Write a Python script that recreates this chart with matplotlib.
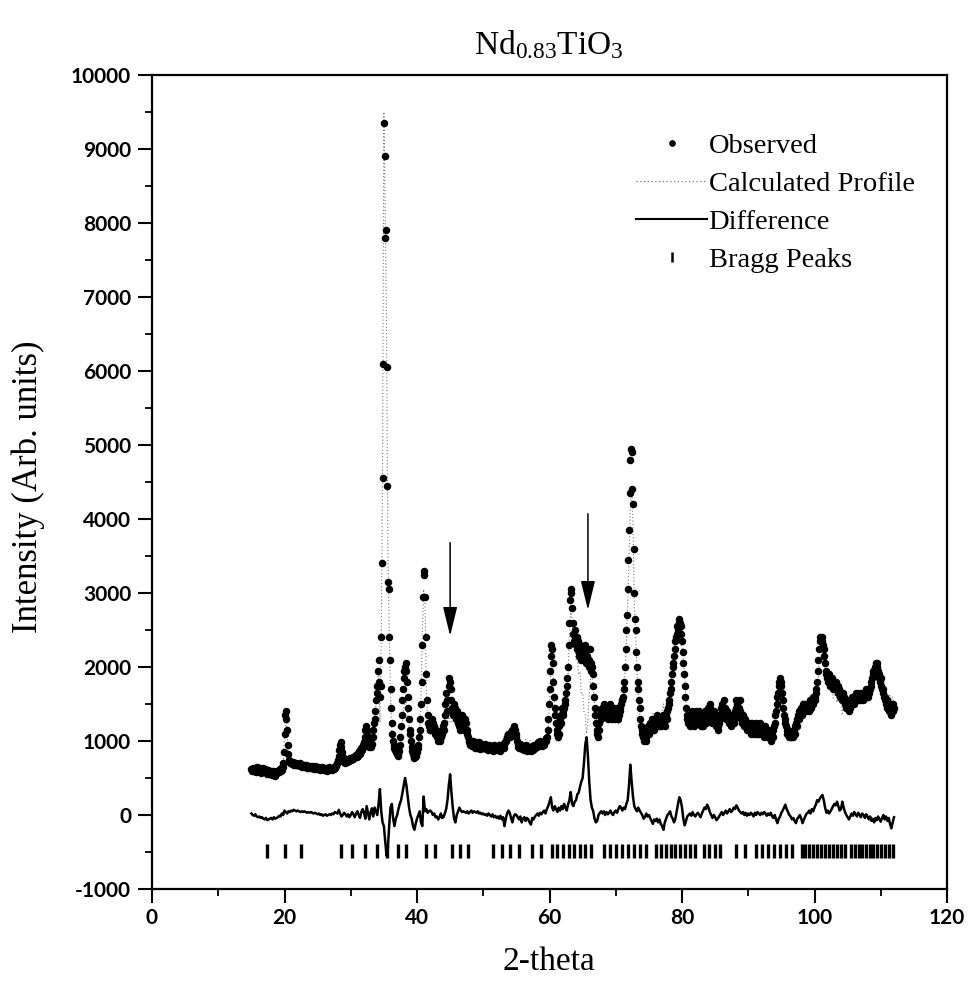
import numpy as np
import matplotlib
matplotlib.use("Agg")
import matplotlib.pyplot as plt
from matplotlib.ticker import MultipleLocator
from matplotlib.lines import Line2D

# ---------------- data ----------------
x_start = 15.0
obs_step = 0.1
observed = [
    620, 600, 640, 610, 590, 630, 600, 580, 620, 650,      # 15
    610, 590, 620, 640, 600, 570, 610, 630, 590, 600,      # 16
    580, 620, 600, 560, 590, 610, 570, 550, 580, 600,      # 17
    560, 540, 570, 590, 550, 530, 560, 580, 600, 570,      # 18
    590, 610, 580, 620, 600, 640, 610, 650, 700, 850,      # 19
    1100, 1350, 1400, 1300, 1150, 950, 820, 740, 720, 700, # 20
    720, 700, 690, 710, 680, 700, 690, 670, 700, 680,      # 21
    690, 670, 680, 700, 660, 680, 670, 650, 680, 660,      # 22
    670, 650, 660, 680, 640, 660, 650, 630, 660, 650,      # 23
    640, 660, 630, 650, 620, 640, 660, 630, 620, 650,      # 24
    630, 650, 620, 640, 610, 630, 650, 620, 640, 610,      # 25
    630, 610, 640, 620, 600, 630, 610, 650, 620, 640,      # 26
    620, 640, 610, 630, 650, 620, 640, 660, 680, 700,      # 27
    720, 750, 800, 880, 950, 980, 920, 850, 780, 740,      # 28
    720, 700, 730, 750, 720, 740, 760, 730, 750, 770,      # 29
    760, 740, 770, 790, 760, 780, 800, 780, 810, 790,      # 30
    820, 800, 840, 860, 830, 870, 900, 880, 920, 950,      # 31
    980, 1050, 1150, 1200, 1150, 1080, 1000, 950, 920, 980,  # 32
    950, 920, 960, 1050, 1150, 1250, 1300, 1400, 1550, 1650, # 33
    1750, 1950, 2100, 1800, 1600, 1750, 2400, 3400, 4550, 6100,  # 34
    9350, 8900, 7800, 7900, 6050, 4450, 3150, 3050, 2400, 2100,  # 35
    1700, 1450, 1250, 1100, 1000, 950, 900, 880, 850, 900,   # 36
    820, 800, 830, 870, 950, 1050, 1200, 1350, 1550, 1700,   # 37
    1850, 1950, 2000, 2050, 1950, 1800, 1600, 1450, 1300, 1150,  # 38
    1100, 1000, 920, 860, 820, 790, 770, 780, 800, 850,      # 39
    850, 900, 950, 1050, 1150, 1300, 1500, 1800, 2300, 2950,  # 40
    3300, 3250, 2950, 2400, 1900, 1550, 1350, 1250, 1200, 1150,  # 41
    1150, 1200, 1250, 1300, 1250, 1200, 1150, 1100, 1150, 1100,  # 42
    1050, 1100, 1000, 1050, 1100, 1000, 1050, 1100, 1150, 1200,  # 43
    1150, 1250, 1350, 1500, 1650, 1550, 1400, 1550, 1750, 1850,  # 44
    1800, 1700, 1550, 1450, 1400, 1350, 1500, 1450, 1350, 1300,  # 45
    1400, 1350, 1250, 1300, 1200, 1150, 1250, 1300, 1350, 1250,  # 46
    1200, 1150, 1250, 1300, 1250, 1150, 1100, 1050, 1000, 980,   # 47
    950, 980, 960, 930, 1000, 970, 940, 900, 960, 990,       # 48
    940, 910, 950, 980, 920, 890, 930, 960, 910, 940,        # 49
    900, 930, 960, 920, 890, 940, 910, 880, 920, 950,        # 50
    920, 890, 930, 900, 870, 910, 940, 900, 880, 920,        # 51
    900, 930, 880, 910, 940, 900, 870, 920, 950, 910,        # 52
    930, 900, 950, 980, 1020, 1000, 1060, 1100, 1050, 1080,  # 53
    1100, 1060, 1120, 1150, 1100, 1130, 1180, 1200, 1150, 1100,  # 54
    1050, 1000, 960, 920, 900, 930, 960, 920, 890, 910,      # 55
    930, 900, 880, 910, 940, 900, 870, 920, 900, 880,        # 56
    910, 890, 860, 900, 930, 880, 910, 940, 900, 920,        # 57
    950, 920, 960, 990, 940, 970, 1000, 960, 930, 970,       # 58
    990, 950, 980, 1000, 1040, 1000, 1050, 1150, 1300, 1500,  # 59
    1700, 1950, 2150, 2300, 2250, 2050, 1800, 1600, 1450, 1350,  # 60
    1250, 1150, 1100, 1050, 1100, 1200, 1300, 1250, 1350, 1450,  # 61
    1400, 1350, 1450, 1550, 1500, 1650, 1750, 1850, 2000, 2300,  # 62
    2600, 2900, 3050, 3000, 2800, 2600, 2450, 2350, 2500, 2400,  # 63
    2300, 2250, 2400, 2350, 2200, 2150, 2300, 2250, 2100, 2200,  # 64
    2150, 2250, 2100, 2200, 2300, 2050, 2150, 2250, 2100, 2000,  # 65
    2100, 2250, 2050, 1950, 2000, 1900, 1750, 1600, 1450, 1350,  # 66
    1250, 1150, 1100, 1050, 1150, 1250, 1350, 1400, 1300, 1450,  # 67
    1400, 1350, 1450, 1500, 1400, 1350, 1450, 1400, 1300, 1350,  # 68
    1450, 1400, 1500, 1450, 1350, 1300, 1400, 1450, 1350, 1300,  # 69
    1350, 1400, 1450, 1350, 1300, 1350, 1450, 1400, 1500, 1550,  # 70
    1550, 1600, 1700, 1800, 2000, 2250, 2500, 2700, 3050, 3450,  # 71
    3850, 4350, 4800, 4950, 4900, 4400, 4200, 3600, 3000, 2650,  # 72
    2500, 2200, 2000, 1800, 1700, 1550, 1450, 1300, 1200, 1150,  # 73
    1100, 1050, 1000, 1080, 1150, 1050, 1000, 1100, 1150, 1200,  # 74
    1100, 1150, 1250, 1200, 1150, 1300, 1250, 1200, 1150, 1250,  # 75
    1300, 1200, 1250, 1350, 1250, 1200, 1300, 1250, 1200, 1300,  # 76
    1250, 1350, 1300, 1250, 1200, 1300, 1350, 1300, 1400, 1450,  # 77
    1500, 1550, 1650, 1700, 1800, 1900, 2000, 2050, 2150, 2250,  # 78
    2350, 2400, 2450, 2550, 2500, 2600, 2650, 2600, 2550, 2450,  # 79
    2350, 2200, 2050, 1900, 1750, 1600, 1450, 1350, 1300, 1250,  # 80
    1250, 1300, 1200, 1250, 1300, 1400, 1350, 1250, 1200, 1300,  # 81
    1350, 1400, 1300, 1250, 1350, 1400, 1300, 1250, 1200, 1300,  # 82
    1350, 1250, 1200, 1300, 1400, 1350, 1250, 1300, 1400, 1450,  # 83
    1400, 1350, 1450, 1500, 1400, 1300, 1250, 1350, 1400, 1300,  # 84
    1250, 1200, 1300, 1350, 1200, 1150, 1250, 1300, 1350, 1450,  # 85
    1500, 1400, 1350, 1450, 1550, 1450, 1350, 1300, 1400, 1350,  # 86
    1300, 1250, 1350, 1300, 1200, 1250, 1300, 1350, 1250, 1300,  # 87
    1400, 1450, 1550, 1500, 1400, 1350, 1450, 1550, 1400, 1300,  # 88
    1250, 1300, 1350, 1250, 1200, 1300, 1250, 1200, 1150, 1250,  # 89
    1200, 1150, 1250, 1200, 1100, 1150, 1250, 1200, 1100, 1150,  # 90
    1200, 1250, 1150, 1100, 1200, 1150, 1100, 1200, 1250, 1150,  # 91
    1100, 1150, 1200, 1100, 1050, 1150, 1200, 1100, 1150, 1050,  # 92
    1100, 1050, 1150, 1100, 1050, 1000, 1100, 1050, 1150, 1200,  # 93
    1250, 1350, 1400, 1500, 1600, 1650, 1750, 1800, 1850, 1800,  # 94
    1750, 1650, 1550, 1450, 1350, 1300, 1250, 1200, 1150, 1100,  # 95
    1150, 1100, 1050, 1100, 1050, 1050, 1100, 1050, 1100, 1150,  # 96
    1100, 1200, 1250, 1200, 1300, 1350, 1300, 1400, 1350, 1450,  # 97
    1400, 1350, 1450, 1500, 1400, 1450, 1500, 1400, 1450, 1500,  # 98
    1450, 1400, 1500, 1550, 1500, 1450, 1550, 1600, 1500, 1550,  # 99
    1550, 1600, 1650, 1700, 1800, 1950, 2100, 2250, 2350, 2400,  # 100
    2350, 2400, 2350, 2300, 2250, 2150, 2050, 1950, 1900, 1850,  # 101
    1800, 1850, 1900, 1800, 1750, 1800, 1850, 1750, 1700, 1800,  # 102
    1750, 1700, 1800, 1750, 1700, 1650, 1750, 1700, 1650, 1600,  # 103
    1650, 1600, 1550, 1650, 1600, 1550, 1500, 1450, 1500, 1550,  # 104
    1450, 1500, 1400, 1450, 1500, 1550, 1500, 1600, 1550, 1500,  # 105
    1600, 1550, 1600, 1650, 1600, 1550, 1600, 1650, 1600, 1550,  # 106
    1600, 1650, 1600, 1550, 1650, 1600, 1650, 1700, 1650, 1600,  # 107
    1650, 1600, 1700, 1650, 1700, 1750, 1800, 1850, 1900, 1950,  # 108
    1900, 1950, 2000, 2050, 2000, 2050, 1950, 1900, 1850, 1800,  # 109
    1850, 1750, 1700, 1650, 1700, 1600, 1550, 1600, 1500, 1550,  # 110
    1450, 1500, 1400, 1450, 1500, 1400, 1350, 1450, 1500, 1400,  # 111
    1450,                                                        # 112
]

diff_step = 0.2
difference = [
    20, 0, -10, 10, -20,        # 15
    -30, -20, -40, -30, -50,    # 16
    -60, -40, -70, -60, -50,    # 17
    -40, -60, -30, -50, -40,    # 18
    -30, -10, -20, 20, 0,       # 19
    60, 40, 20, 50, 40,         # 20
    60, 50, 70, 60, 50,         # 21
    60, 50, 40, 50, 40,         # 22
    50, 40, 30, 40, 30,         # 23
    40, 30, 20, 30, 20,         # 24
    10, 20, 0, 10, -10,         # 25
    0, 10, -10, 0, 10,          # 26
    0, 20, 10, 40, 30,          # 27
    20, 70, 20, -20, 0,         # 28
    30, 10, -20, 10, -30,       # 29
    0, 40, 10, -30, 20,         # 30
    50, 0, -40, 40, 80,         # 31
    30, -50, 120, 30, -60,      # 32
    40, 90, -20, 100, 50,       # 33
    0, 150, 350, 50, -100,      # 34
    -150, -350, -550, -450, -150,  # 35
    100, 150, -50, -150, -50,   # 36
    0, 80, 150, 200, 300,       # 37
    400, 500, 400, 250, 100,    # 38
    0, -50, -150, -200, -120,   # 39
    -50, 0, 50, -100, -150,     # 40
    250, 50, 80, 30, 50,        # 41
    60, 40, 0, 20, -30,         # 42
    -20, -60, -30, 20, -40,     # 43
    -30, 20, 80, 200, 400,      # 44
    550, 300, 100, -50, -100,   # 45
    0, 50, 100, 60, 40,         # 46
    50, 40, 30, 50, 20,         # 47
    40, 60, 30, 50, 40,         # 48
    30, 50, 20, 30, 10,         # 49
    20, 0, 10, -10, 20,         # 50
    0, -20, 10, -30, -10,       # 51
    -40, -20, -50, -10, -60,    # 52
    -30, -150, -50, 20, 60,     # 53
    30, -40, -100, -20, 10,     # 54
    0, -30, -60, -20, -100,     # 55
    -50, -30, -80, -40, -60,    # 56
    -100, -130, -40, -60, -20,  # 57
    0, 20, -10, 30, 10,         # 58
    40, 60, 20, 80, 120,        # 59
    180, 240, 100, 60, 120,     # 60
    80, 40, 100, 60, 120,       # 61
    80, 150, 100, 60, 140,      # 62
    200, 310, 150, 120, 180,    # 63
    200, 280, 300, 380, 450,    # 64
    500, 700, 950, 1050, 800,   # 65
    450, 200, 100, 50, -50,     # 66
    -100, -80, 0, 30, 50,       # 67
    20, 50, 0, 40, 10,          # 68
    30, 60, 20, 0, 40,          # 69
    60, 30, 80, 120, 100,       # 70
    60, 100, 80, 150, 200,      # 71
    400, 680, 450, 250, 120,    # 72
    80, 50, 100, 60, 30,        # 73
    0, -50, -30, 20, -20,       # 74
    0, -40, -80, -120, -60,     # 75
    -80, -50, -100, -60, -120,  # 76
    -150, -200, -100, -50, 0,   # 77
    20, 50, -20, -50, -100,     # 78
    -50, 50, 150, 240, 200,     # 79
    100, -50, -140, -80, -20,   # 80
    0, 20, -10, 40, 0,          # 81
    -20, 10, 30, 0, -30,        # 82
    20, 60, 100, 80, 140,       # 83
    100, 40, 0, -40, 0,         # 84
    -30, -70, -50, -20, 10,     # 85
    40, 0, 30, 60, 20,          # 86
    50, 80, 40, 60, 100,        # 87
    80, 130, 100, 60, 40,       # 88
    20, 40, 0, 30, -10,         # 89
    20, 0, 30, 10, -20,         # 90
    30, 0, 40, 20, 0,           # 91
    30, 10, 40, 20, -10,        # 92
    20, 0, 30, -20, -40,        # 93
    0, -60, -110, -50, -20,     # 94
    30, 60, 100, 140, 80,       # 95
    40, 0, -20, -60, -40,       # 96
    -80, -110, -50, -30, 0,     # 97
    -50, -110, -60, -20, 20,    # 98
    30, 60, 20, 80, 50,         # 99
    100, 140, 200, 180, 220,    # 100
    250, 270, 200, 100, 30,     # 101
    60, 20, 50, 80, 120,        # 102
    150, 130, 180, 120, 60,     # 103
    80, 180, 100, 40, 0,        # 104
    -30, -60, -20, 20, -10,     # 105
    40, 10, -20, 30, 0,         # 106
    -30, 20, 0, -40, 10,        # 107
    -20, -60, -20, -80, -50,    # 108
    -100, -40, -70, -20, -60,   # 109
    -90, -40, 0, -60, -20,      # 110
    -80, -40, -120, -180, -100, # 111
    -30,                        # 112
]

bragg_positions = [
    17.3, 20.0, 22.5, 28.6, 30.2, 32.1, 33.9, 35.5, 37.2, 38.4, 41.4, 42.7,
    45.3, 46.5, 47.7, 51.4, 52.9, 54.1, 55.4, 57.4, 58.7, 60.4, 61.2, 62.0,
    62.9, 63.7, 64.6, 65.4, 66.3, 68.2, 69.1, 70.0, 70.9, 71.8, 72.7, 73.6,
    74.5, 76.0, 76.8, 77.6, 78.3, 79.0, 79.7, 80.4, 81.2, 82.0, 83.3, 84.1,
    85.0, 85.8, 88.2, 89.5, 91.2, 92.1, 93.0, 93.9, 94.8, 95.7, 96.6, 98.1,
    98.6, 99.2, 99.8, 100.4, 101.0, 101.6, 102.2, 102.8, 103.4, 104.0, 104.6,
    105.5, 106.1, 106.7, 107.2, 107.8, 108.4, 108.9, 109.5, 110.1, 110.6,
    111.3, 111.9,
]
bragg_level = -480

# impurity arrows: x position, tail and head intensities
arrow_x = [45.0, 65.8]
arrow_top = [3680, 4070]
arrow_tip = [2420, 2770]

legend_labels = ["Observed", "Calculated Profile", "Difference", "Bragg Peaks"]
x_ticks = [0, 20, 40, 60, 80, 100, 120]
y_ticks = [-1000, 0, 1000, 2000, 3000, 4000, 5000, 6000, 7000, 8000, 9000, 10000]

# ---------------- derived arrays ----------------
obs = np.array(observed, dtype=float)
x_obs = x_start + obs_step * np.arange(len(obs))
dif = np.array(difference, dtype=float)
x_dif = x_start + diff_step * np.arange(len(dif))
calc = obs[::2][:len(dif)] - dif   # calculated = observed - difference

# ---------------- plot ----------------
plt.rcParams["mathtext.fontset"] = "custom"
plt.rcParams["mathtext.rm"] = "Liberation Serif"
plt.rcParams["axes.unicode_minus"] = False
serif = "Liberation Serif"

fig = plt.figure(figsize=(9.69, 9.89), dpi=100)
ax = fig.add_axes([152 / 969, 100 / 989, 795 / 969, 814 / 989])

ax.plot(x_obs, obs, linestyle="none", marker="o", ms=4.4, color="black",
        mec="black", zorder=3)
ax.plot(x_dif, calc, linestyle=(0, (1, 2)), lw=0.8, color="#777777", zorder=2)
ax.plot(x_dif, dif, color="black", lw=1.8, zorder=3)
ax.plot(bragg_positions, [bragg_level] * len(bragg_positions), linestyle="none",
        marker="|", ms=9.5, mew=2.4, color="black", zorder=3)

for xa, yt, yh in zip(arrow_x, arrow_top, arrow_tip):
    ax.annotate("", xy=(xa, yh), xytext=(xa, yt),
                arrowprops=dict(arrowstyle="-|>,head_length=0.9,head_width=0.22",
                                lw=1.1, color="black", mutation_scale=20,
                                shrinkA=0, shrinkB=0))

ax.set_xlim(0, 120)
ax.set_ylim(-1000, 10000)
ax.set_xticks(x_ticks)
ax.set_yticks(y_ticks)
ax.xaxis.set_minor_locator(MultipleLocator(10))
ax.yaxis.set_minor_locator(MultipleLocator(500))
ax.tick_params(which="major", direction="out", length=10, width=1.5,
               top=False, right=False)
ax.tick_params(which="minor", direction="out", length=5, width=1.3,
               top=False, right=False)
ax.tick_params(axis="y", pad=5)
ax.tick_params(axis="x", pad=4)
for lab in ax.get_xticklabels() + ax.get_yticklabels():
    lab.set_fontfamily("Lato")
    lab.set_fontweight("bold")
    lab.set_fontsize(15)
for sp in ax.spines.values():
    sp.set_linewidth(1.6)

fig.text(549 / 969, 1 - 45 / 989, r"$\mathrm{Nd_{0.83}TiO_3}$", ha="center",
         va="center", fontsize=24, family=serif)
fig.text(549 / 969, 1 - 962 / 989, "2-theta", ha="center", va="center",
         fontsize=24, family=serif)
fig.text(28 / 969, 1 - 487 / 989, "Intensity (Arb. units)", ha="center",
         va="center", rotation=90, fontsize=25, family=serif)

handles = [
    Line2D([], [], linestyle="none", marker="o", ms=3.8, color="black"),
    Line2D([], [], linestyle=(0, (1, 2)), lw=0.9, color="#777777"),
    Line2D([], [], color="black", lw=1.5),
    Line2D([], [], linestyle="none", marker="|", ms=7, mew=1.8, color="black"),
]
ax.legend(handles, legend_labels, loc="upper left",
          bbox_to_anchor=((636 - 152) / 795, (889 - 133) / 814),
          frameon=False, prop={"family": serif, "size": 20.5},
          handlelength=2.5, handletextpad=0.05, labelspacing=0.42,
          borderpad=0, borderaxespad=0)

fig.savefig("out.png", dpi=100)
